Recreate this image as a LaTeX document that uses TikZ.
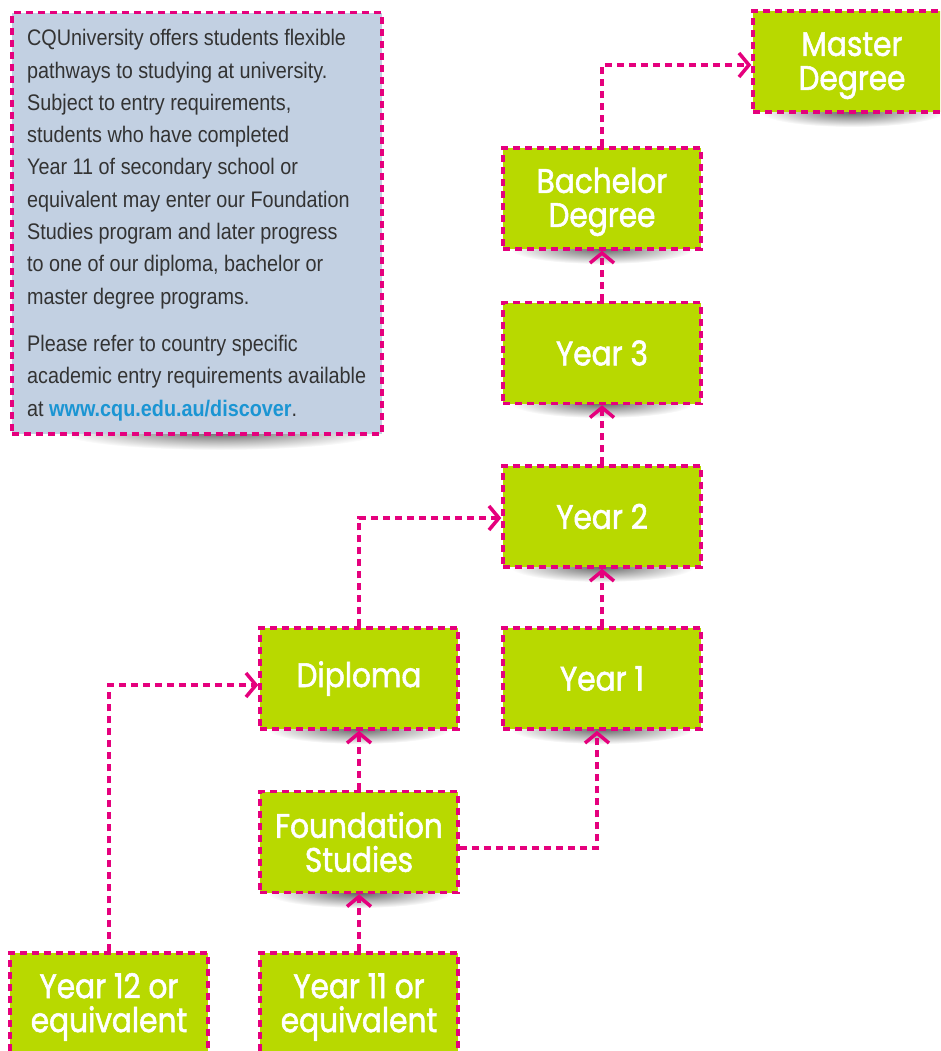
\documentclass[tikz,border=0pt]{standalone}
\usepackage{fontspec}
\usetikzlibrary{arrows.meta}
\newfontfamily\boxfont[FakeStretch=0.87,FakeBold=1.6]{Poppins}
\newfontfamily\infofont[FakeStretch=0.88]{Liberation Sans}
\definecolor{lime}{HTML}{B8D900}
\definecolor{mag}{HTML}{E5007D}
\definecolor{infobg}{HTML}{C2D0E2}
\definecolor{infotext}{HTML}{333333}
\definecolor{linkblue}{HTML}{1B95D3}
\newcommand\lowertwo{\rule{0pt}{32pt}}
\tikzset{
  stagebox/.style={draw=mag, fill=lime, line width=3.5pt, dash pattern=on 7pt off 5pt,
    minimum width=198pt, minimum height=101pt, inner sep=0pt, text=white, align=center,
    font=\boxfont\fontsize{34}{34}\selectfont},
  conn/.style={draw=mag, line width=3.5pt, dash pattern=on 7pt off 5pt,
    -{Straight Barb[length=10pt,width=24pt,line width=3.5pt]}},
  boxshadow/.style={inner color=black!60, outer color=white}
}
\begin{document}
\begin{tikzpicture}[x=1pt,y=-1pt]
\useasboundingbox (0,0) rectangle (940,1051);
\clip (0,0) rectangle (940,1051);
% shadows
\shade[boxshadow] (220,432) ellipse (160 and 18);
\foreach \cx/\by in {852/112, 602/249, 602/403, 602/567, 602/729, 359/729, 359/893}{
  \shade[boxshadow] (\cx,\by) ellipse (92 and 15);
}
% info box
\node[draw=mag, fill=infobg, line width=3.5pt, dash pattern=on 7pt off 5pt,
  minimum width=370pt, minimum height=421pt, anchor=north west, inner sep=0pt] (infobox) at (10,11) {};
\node[anchor=base west, align=left, text=infotext, inner sep=0pt,
  font=\infofont\fontsize{22.5}{32.3}\selectfont] (info) at (27,416)
  {CQUniversity offers students flexible\\
   pathways to studying at university.\\
   Subject to entry requirements,\\
   students who have completed\\
   Year 11 of secondary school or\\
   equivalent may enter our Foundation\\
   Studies program and later progress\\
   to one of our diploma, bachelor or\\
   master degree programs.\\[15pt]
   Please refer to country specific\\
   academic entry requirements available\\
   at {\bfseries\color{linkblue}www.cqu.edu.au/discover}.};
% stage boxes
\node[stagebox] (master) at (852,61.5) {\lowertwo Master\\Degree};
\node[stagebox] (bach) at (602,198.5) {\lowertwo Bachelor\\Degree};
\node[stagebox] (y3) at (602,353) {Year 3};
\node[stagebox] (y2) at (602,516.5) {Year 2};
\node[stagebox] (y1) at (602,678.5) {Year 1};
\node[stagebox] (dip) at (359,678.5) {Diploma};
\node[stagebox] (found) at (359,842) {Foundation\\Studies};
\node[stagebox] (y12) at (109,1003.5) {\lowertwo Year 12 or\\equivalent};
\node[stagebox] (y11) at (359,1003.5) {\lowertwo Year 11 or\\equivalent};
% connectors
\draw[conn] (bach.north) |- ([yshift=-3.5pt]master.west);
\draw[conn] (y3.north) -- (bach.south);
\draw[conn] (y2.north) -- (y3.south);
\draw[conn] (y1.north) -- (y2.south);
\draw[conn] (dip.north) |- ([yshift=-1.5pt]y2.west);
\draw[conn] (found.north) -- (dip.south);
\draw[conn] ([yshift=-6pt]found.east) -| ([xshift=-5pt]y1.south);
\draw[conn] (y12.north) |- ([yshift=-6.5pt]dip.west);
\draw[conn] (y11.north) -- (found.south);
\end{tikzpicture}
\end{document}
